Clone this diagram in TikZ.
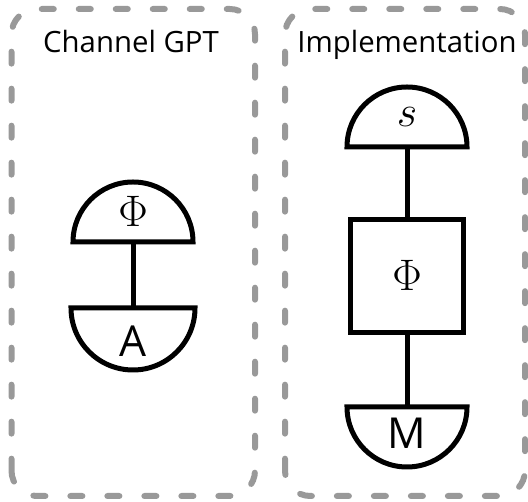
\documentclass[tikz,border=0pt]{standalone}
\usepackage{fontspec}
\setmainfont{Open Sans}
\usepackage{xcolor}
\usepackage{tikz}
\definecolor{boxgray}{HTML}{999999}
\newcommand{\bigmath}[1]{\scalebox{1.33}{\fontsize{24.88}{30}\selectfont$#1$}}

\begin{document}
\begin{tikzpicture}[x=0.75pt,y=0.75pt,
  frame/.style={boxgray,line width=4.5pt,line cap=round,dash pattern=on 9pt off 18.75pt,rounded corners=19pt},
  wire/.style={line width=3.75pt},
  title/.style={anchor=base,font=\fontsize{22}{26}\selectfont},
  lab/.style={font=\fontsize{32}{36}\selectfont}]
\useasboundingbox (0,0) rectangle (528,502);
% the two dashed frames
\draw[frame] (11.5,6) rectangle (255,493);
\draw[frame] (285,6) rectangle (525,493);
\node[title] (chan) at (131,449) {Channel GPT};
\node[title] (impl) at (407,449) {Implementation};
% channel GPT: state and effect
\coordinate (prepL) at (133,260);
\coordinate (effL) at (133,194);
\draw[wire] (prepL) ++(-60,0) arc[start angle=180,end angle=0,radius=60] -- cycle;
\draw[wire] (effL) ++(-62,0) arc[start angle=180,end angle=360,radius=62] -- cycle;
\draw[wire] (prepL) -- (effL);
\node[lab] (phiL) at (133,291) {\bigmath{\Phi}};
\node[lab] (aL) at (133,161) {A};
% implementation: state s, box Phi, measurement M
\coordinate (prepR) at (407,355);
\coordinate (measR) at (407,95);
\node[draw,wire,minimum size=118*0.75pt-3.75pt,inner sep=0pt] (box) at (407,226) {};
\draw[wire] (prepR) ++(-60,0) arc[start angle=180,end angle=0,radius=60] -- cycle;
\draw[wire] (measR) ++(-60,0) arc[start angle=180,end angle=360,radius=60] -- cycle;
\draw[wire] (prepR) -- (box.north);
\draw[wire] (box.south) -- (measR);
\node[lab] (sR) at (407,385) {\bigmath{s}};
\node[lab] (phiR) at (407,227) {\bigmath{\Phi}};
\node[lab] (mR) at (407,69) {M};
\end{tikzpicture}
\end{document}
